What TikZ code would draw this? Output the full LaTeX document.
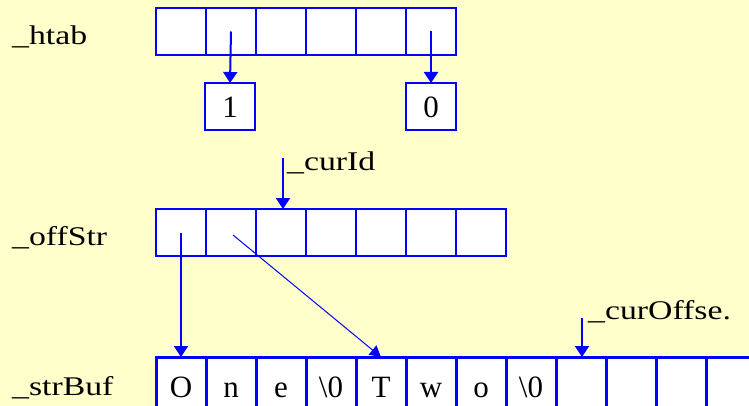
\documentclass[tikz,border=0pt]{standalone}
\usepackage{fontspec}
\setmainfont{Liberation Serif}
\newfontfamily\lblfont[FakeStretch=1.25]{Liberation Serif}
\usetikzlibrary{arrows.meta}
\definecolor{bl}{RGB}{0,0,255}
\definecolor{bg}{RGB}{255,255,204}
\tikzset{
  cell/.style={draw=bl, fill=white, line width=2pt, minimum width=50pt, minimum height=47pt, inner sep=0pt, outer sep=0pt},
  bufcell/.style={draw=bl, fill=white, line width=3pt, minimum width=50pt, minimum height=80pt, inner sep=0pt, outer sep=0pt},
  lbl/.style={font=\lblfont\fontsize{27}{30}\selectfont, inner sep=0pt, anchor=base west},
  celltxt/.style={font=\fontsize{31}{34}\selectfont, inner sep=0pt, anchor=base},
  arr/.style={draw=bl, line width=2pt, -{Triangle[width=14pt,length=11pt]}},
  thinarr/.style={draw=bl, line width=1pt, -{Triangle[width=12pt,length=11pt]}},
}
\begin{document}
\begin{tikzpicture}[x=1pt,y=-1pt]
\fill[bg] (0,0) rectangle (749,406);
\useasboundingbox (0,0) rectangle (749,406);
\clip (0,0) rectangle (749,406);
% labels
\node[lbl] (lh) at (12,45) {\_htab};
\node[lbl] (lo) at (12,245) {\_offStr};
\node[lbl] (ls) at (12,395) {\_strBuf};
% _htab
\foreach \i in {0,...,5} {\node[cell] (h\i) at (181+50*\i,31.5) {};}
\node[cell] (b1) at (230,106.5) {};
\node[celltxt] (b1t) at (230,118) {1};
\node[cell] (b0) at (431,106.5) {};
\node[celltxt] (b0t) at (431,118) {0};
\draw[arr] (h1.center) -- (b1.north);
\draw[arr] (h5.center) -- (b0.north);
% _offStr
\foreach \i in {0,...,6} {\node[cell] (o\i) at (181+50*\i,232.5) {};}
% _strBuf
\foreach \i in {0,...,11} {\node[bufcell] (s\i) at (181+50*\i,397) {};}
\draw[bl, line width=2pt] (156,357) -- (749,357);
\foreach \i/\t in {0/O,1/n,2/e,3/{\textbackslash 0},4/T,5/w,6/o,7/{\textbackslash 0}} {
  \node[celltxt] (t\i) at (181+50*\i,397) {\t};
}
% pointers
\coordinate (cid) at (283,158);
\node[lbl] (cidl) at (287,171) {\_curId};
\draw[arr] (cid) -- (o2.north -| cid);
\draw[arr] (o0.center) -- (s0.north);
\coordinate (o1p) at (233,235);
\draw[thinarr] (o1p) -- (s4.north);
\coordinate (cof) at (582,318);
\node[lbl] (cofl) at (588,319) {\_curOffse.};
\draw[arr] (cof) -- (s8.north -| cof);
\end{tikzpicture}
\end{document}
